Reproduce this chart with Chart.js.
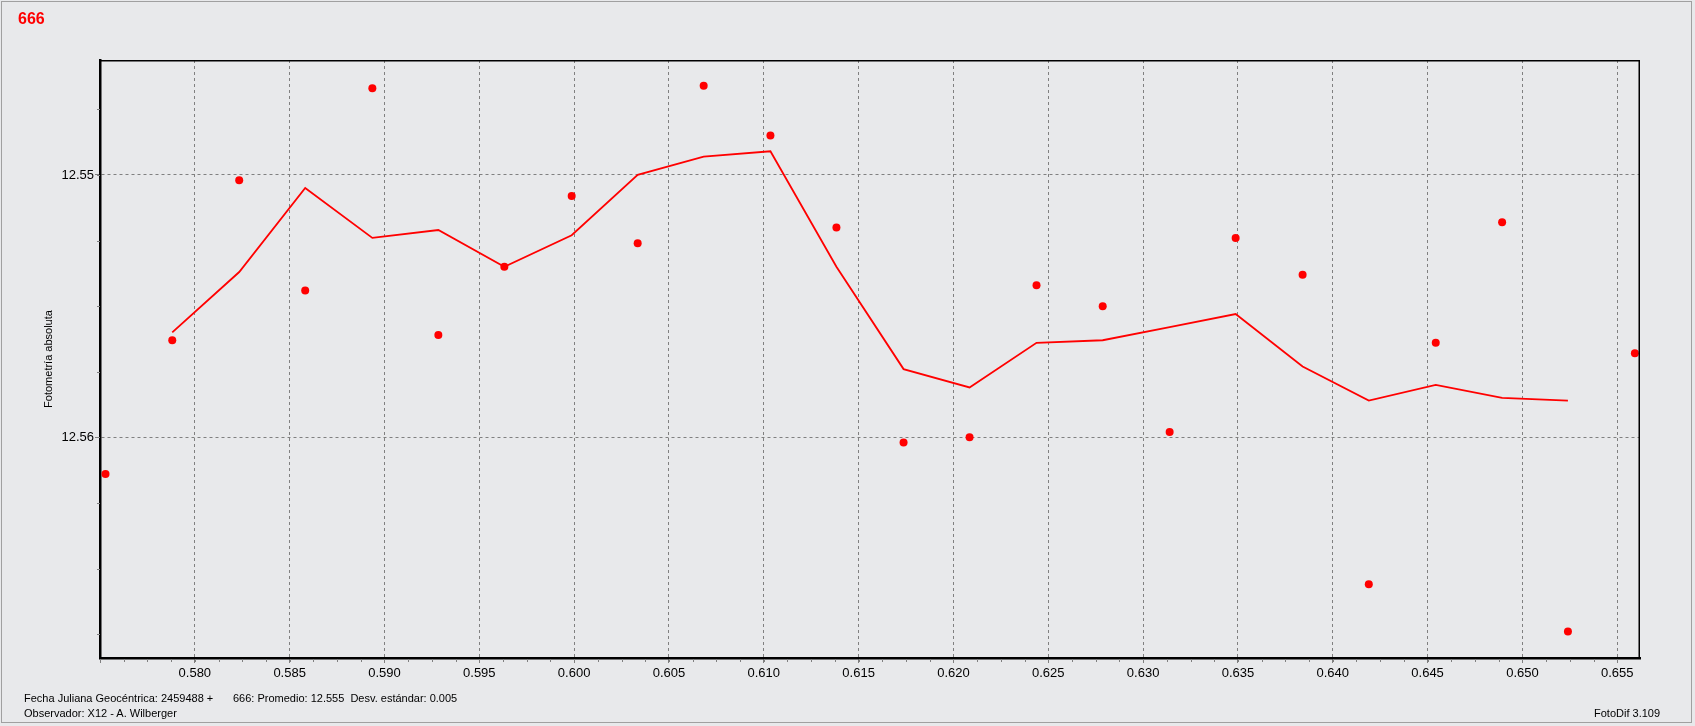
<!DOCTYPE html>
<html>
<head>
<meta charset="utf-8">
<script src="https://cdn.jsdelivr.net/npm/chart.js@4/dist/chart.umd.min.js"></script>
<style>
    html, body { margin: 0; padding: 0; background: #e8e9eb; }
    #wrap { position: relative; width: 1695px; height: 726px; overflow: hidden; }
    #frame { position: absolute; left: 1px; top: 1px; width: 1691px; height: 722px; border: 1px solid #a0a0a0; box-sizing: border-box; pointer-events: none; }
    canvas { position: absolute; left: 0; top: 0; }
    .txt { position: absolute; font-family: "Liberation Sans", Arial, sans-serif; white-space: pre; color: #000; }
    #title { left: 18px; top: 11px; font-size: 16px; line-height: 16px; font-weight: bold; color: #ff0000; }
    .foot { font-size: 11px; line-height: 11px; }
</style>
</head>
<body>
<div id="wrap">
    <canvas id="lightCurve" width="1695" height="726"></canvas>
    <div id="frame"></div>
    <div class="txt" id="title">666</div>
    <div class="txt foot" style="left:24px; top:693px;">Fecha Juliana Geocéntrica: 2459488 +</div>
    <div class="txt foot" style="left:233px; top:693px;">666: Promedio: 12.555  Desv. estándar: 0.005</div>
    <div class="txt foot" style="left:24px; top:708px;">Observador: X12 - A. Wilberger</div>
    <div class="txt foot" style="left:1594px; top:708px;">FotoDif 3.109</div>
</div>
<script>
// fecha juliana (fracción) y magnitud de cada medida
const jd = [0.57529, 0.57881, 0.58234, 0.58582, 0.58936, 0.59284, 0.59632, 0.59987,
            0.60335, 0.60683, 0.61035, 0.61383, 0.61737, 0.62085, 0.62438, 0.62787,
            0.63140, 0.63488, 0.63841, 0.64190, 0.64543, 0.64893, 0.65240, 0.65593];
const mag = [12.5614, 12.5563, 12.5502, 12.5544, 12.5467, 12.5561, 12.5535, 12.5508,
             12.5526, 12.5466, 12.5485, 12.5520, 12.5602, 12.5600, 12.5542, 12.5550,
             12.5598, 12.5524, 12.5538, 12.5656, 12.5564, 12.5518, 12.5674, 12.5568];
// media móvil (de la medida 2 a la 23)
const avg = [12.5560, 12.5537, 12.5505, 12.5524, 12.5521, 12.5535, 12.5523, 12.5500,
             12.5493, 12.5491, 12.5535, 12.5574, 12.5581, 12.5564, 12.5563, 12.5558,
             12.5553, 12.5573, 12.5586, 12.5580, 12.5585, 12.5586];

const xMin = 0.5750, xMax = 0.6562;
const yMin = 12.54562, yMax = 12.56841;
const xTickLabels = ['0.580', '0.585', '0.590', '0.595', '0.600', '0.605', '0.610', '0.615',
                     '0.620', '0.625', '0.630', '0.635', '0.640', '0.645', '0.650', '0.655'];
const yTickLabels = ['12.55', '12.56'];

const points = jd.map((x, i) => ({ x, y: mag[i] }));
const avgLine = avg.map((y, i) => ({ x: jd[i + 1], y }));

const GRID = '#808080';

const plotExtras = {
    id: 'plotExtras',
    afterDraw(chart) {
        const { ctx, chartArea: a, scales: { x, y } } = chart;
        ctx.save();
        // marco superior y derecho
        ctx.strokeStyle = '#000';
        ctx.lineWidth = 1.5;
        ctx.beginPath();
        ctx.moveTo(a.left, a.top + 0.75);
        ctx.lineTo(a.right - 0.75, a.top + 0.75);
        ctx.lineTo(a.right - 0.75, a.bottom);
        ctx.stroke();

        // marcas menores
        ctx.strokeStyle = GRID;
        ctx.lineWidth = 1;
        ctx.beginPath();
        const xs = 0.00125;
        for (let k = Math.ceil(x.min / xs); k * xs <= x.max; k++) {
            const px = Math.round(x.getPixelForValue(k * xs)) + 0.5;
            ctx.moveTo(px, a.bottom + 1);
            ctx.lineTo(px, a.bottom + 4);
        }
        const ys = 0.0025;
        for (let k = Math.ceil(y.min / ys - 1e-6); k * ys <= y.max + 1e-9; k++) {
            const py = Math.round(y.getPixelForValue(k * ys)) + 0.5;
            ctx.moveTo(a.left - 3, py);
            ctx.lineTo(a.left, py);
        }
        ctx.stroke();
        ctx.restore();
    }
};

Chart.defaults.font.family = '"Liberation Sans", Arial, sans-serif';
Chart.defaults.color = '#000';

new Chart(document.getElementById('lightCurve'), {
    type: 'scatter',
    data: {
        datasets: [
            {
                label: 'medidas',
                data: points,
                pointRadius: 4,
                pointHoverRadius: 4,
                pointBackgroundColor: '#ff0000',
                pointBorderWidth: 0,
                showLine: false
            },
            {
                label: 'media',
                data: avgLine,
                showLine: true,
                borderColor: '#ff0000',
                borderWidth: 1.8,
                pointRadius: 0,
                tension: 0
            }
        ]
    },
    options: {
        responsive: false,
        animation: false,
        devicePixelRatio: 1,
        layout: { padding: { left: 0, top: 60, right: 55, bottom: 0 } },
        plugins: {
            legend: { display: false },
            tooltip: { enabled: false }
        },
        scales: {
            x: {
                type: 'linear',
                min: xMin,
                max: xMax,
                afterFit: s => { s.height = 68; },
                grid: { color: GRID, lineWidth: 1, tickLength: 5, tickColor: GRID },
                border: { color: '#000', width: 2.5, dash: [3, 3] },
                ticks: {
                    stepSize: 0.005,
                    includeBounds: false,
                    padding: 3,
                    font: { size: 13 },
                    callback: v => {
                        const s = v.toFixed(3);
                        return xTickLabels.includes(s) ? s : '';
                    }
                }
            },
            y: {
                type: 'linear',
                reverse: true,
                min: yMin,
                max: yMax,
                afterFit: s => { s.width = 100; },
                grid: { color: GRID, lineWidth: 1, tickLength: 5, tickColor: GRID },
                border: { color: '#000', width: 2.5, dash: [3, 3] },
                ticks: {
                    stepSize: 0.01,
                    includeBounds: false,
                    padding: 1,
                    font: { size: 13 },
                    callback: v => {
                        const s = v.toFixed(2);
                        return yTickLabels.includes(s) ? s : '';
                    }
                },
                title: {
                    display: true,
                    text: 'Fotometría absoluta',
                    font: { size: 11 },
                    padding: { top: 42, bottom: 0 }
                }
            }
        }
    },
    plugins: [plotExtras]
});
</script>
</body>
</html>
